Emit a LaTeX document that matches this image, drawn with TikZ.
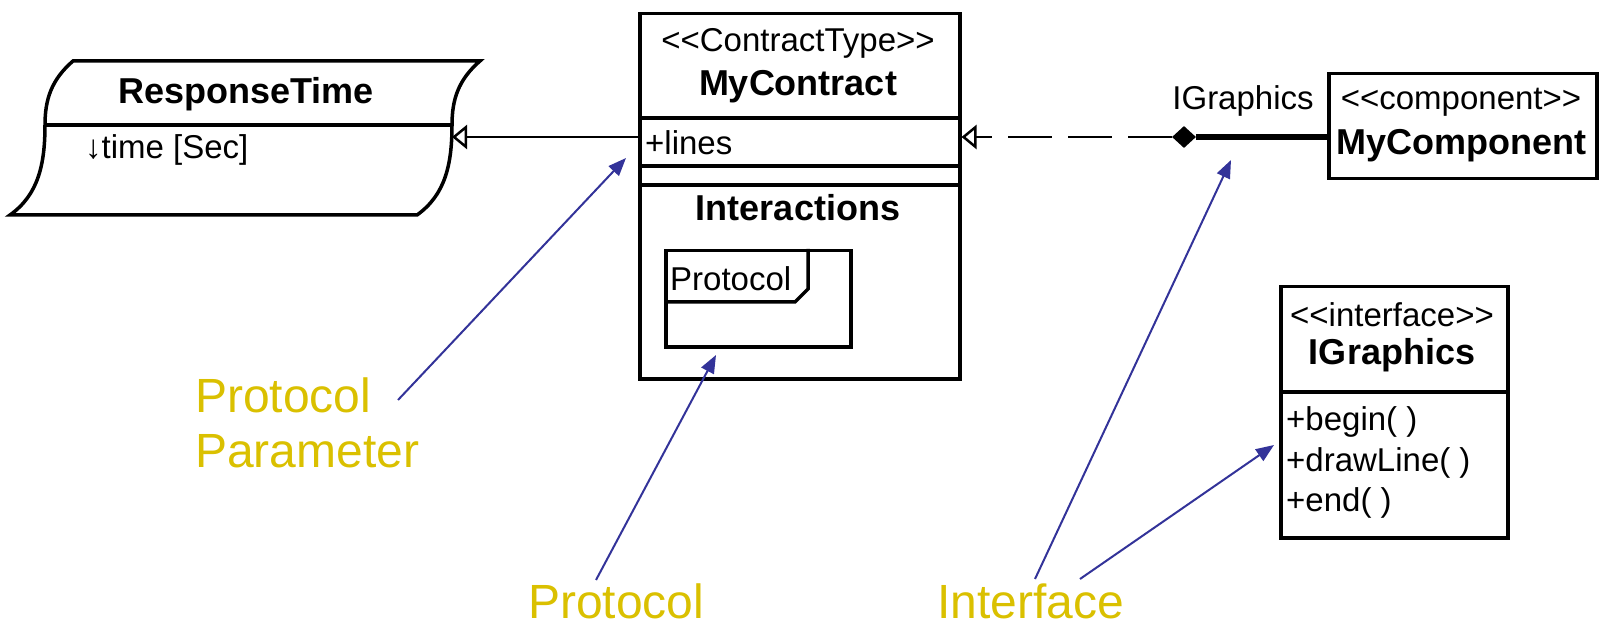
\documentclass[tikz,border=0pt]{standalone}
\usepackage{fontspec}
\setmainfont{Liberation Sans}
\usetikzlibrary{arrows.meta,shapes.geometric}
\definecolor{notegold}{RGB}{218,192,0}
\definecolor{noteblue}{RGB}{51,51,153}
\newcommand{\umlnormal}{\fontsize{33}{38}\selectfont}
\newcommand{\umlbold}{\fontsize{36}{40}\selectfont\bfseries}
\newcommand{\notefont}{\fontsize{48}{55}\selectfont}
\newcommand{\stereotype}[1]{<\kern0pt<#1>\kern0pt>}

\begin{document}
\begin{tikzpicture}[x=1pt, y=-1pt,
  umlbox/.style={draw, line width=3.5pt, anchor=north west, inner sep=0pt},
  plain/.style={font=\umlnormal, inner sep=0pt},
  heavy/.style={font=\umlbold, inner sep=0pt},
  link/.style={line width=2.5pt},
  generalize/.style={link, -{Triangle[open, fill=white, length=15pt, width=24pt]}},
  realize/.style={generalize, dash pattern=on 44pt off 16pt},
  pointer/.style={line width=2pt, noteblue, -{Triangle[length=18pt, width=14pt]}},
  note/.style={font=\notefont, text=notegold, inner sep=0pt, anchor=base west}]
\useasboundingbox (0,0) rectangle (1606,628);
\draw[line width=3.5pt] (73,61) -- (480,61) .. controls (458,80) and (452,100) .. (452,125)
  .. controls (452,165) and (445,195) .. (417,215) -- (10,215)
  .. controls (38,195) and (45,165) .. (45,125) .. controls (45,100) and (51,80) .. (73,61) -- cycle;
\draw[line width=3.5pt] (45,125) -- (452,125);
\node[heavy] (rtime) at (246,94) {ResponseTime};
\node[plain, anchor=west] (rtattr) at (85,150) {↓time [Sec]};
\coordinate (rtedge) at (452,137);
\node[umlbox, minimum width=320pt, minimum height=365pt] (contract) at (638,12) {};
\foreach \yy in {118,166,185}
  \draw[line width=3.5pt] (contract.west |- 0,\yy) -- (contract.east |- 0,\yy);
\node[plain] (ctype) at (798,43) {\stereotype{ContractType}};
\node[heavy] (cname) at (798,87) {MyContract};
\node[plain, anchor=west] (lines) at (645,143) {+lines};
\node[heavy] (inter) at (798,208) {Interactions};
\node[umlbox, minimum width=185pt, minimum height=96pt] (proto) at (664,249) {};
\draw[line width=3.5pt] (proto.west |- 0,302) -- (795,302) -- (808,289) -- (808,249);
\node[plain, anchor=west] (protoname) at (670,279) {Protocol};
\node[umlbox, minimum width=268pt, minimum height=105pt] (comp) at (1327,72) {};
\node[plain] (ctag) at (1461,102) {\stereotype{component}};
\node[heavy] (cmpname) at (1461,146) {MyComponent};
\node[diamond, fill, inner sep=0pt, minimum width=24pt, minimum height=22pt] (port) at (1184,137) {};
\node[plain] (portname) at (1243,101) {IGraphics};
\node[umlbox, minimum width=227pt, minimum height=251pt] (iface) at (1279,285) {};
\draw[line width=3.5pt] (iface.west |- 0,392) -- (iface.east |- 0,392);
\node[plain] (itag) at (1392,315) {\stereotype{interface}};
\node[heavy] (iname) at (1392,355) {IGraphics};
\foreach \op/\yy in {begin( )/422, drawLine( )/463, end( )/503}
  \node[plain, anchor=west] at (1286,\yy) {+\op};
\draw[generalize] (contract.west |- rtedge) -- (rtedge);
\draw[realize] (port.west) -- (contract.east |- port);
\draw[line width=6pt] (port.east) -- (comp.west |- port);
\node[note] (paramnote) at (195,412) {Protocol};
\node[note] (paramnote2) at (195,467) {Parameter};
\node[note] (protonote) at (528,618) {Protocol};
\node[note] (ifacenote) at (937,618) {Interface};
\coordinate (paramtail) at (398,400);
\coordinate (paramtip) at (626,158);
\coordinate (prototail) at (596,580);
\coordinate (prototip) at (716,355);
\coordinate (ifacetailA) at (1035,579);
\coordinate (ifacetipA) at (1231,160);
\coordinate (ifacetailB) at (1080,579);
\coordinate (ifacetipB) at (1274,445);
\draw[pointer] (paramtail) -- (paramtip);
\draw[pointer] (prototail) -- (prototip);
\draw[pointer] (ifacetailA) -- (ifacetipA);
\draw[pointer] (ifacetailB) -- (ifacetipB);
\end{tikzpicture}
\end{document}
